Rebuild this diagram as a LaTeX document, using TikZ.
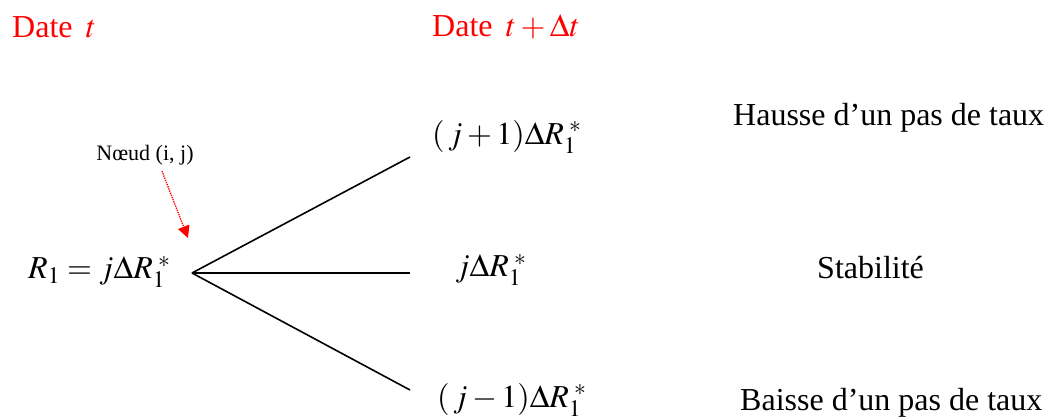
\documentclass[tikz,border=0pt]{standalone}
\usepackage{mathptmx}
\usepackage{fontspec}
\setmainfont{Liberation Serif}
\usetikzlibrary{arrows.meta}
\begin{document}
\begin{tikzpicture}[x=1pt,y=-1pt,
  lbl/.style={inner sep=0pt,font=\fontsize{32}{36}\selectfont},
  small/.style={inner sep=0pt,font=\fontsize{22}{25}\selectfont},
  branch/.style={draw=black,line width=1.6pt}]
\useasboundingbox (0,0) rectangle (1055,419);
\node[lbl,text=red,anchor=west] (d1) at (12,27) {Date \,$t$};
\node[lbl,text=red,anchor=west] (d2) at (432,27) {Date \,$t+\Delta t$};
\coordinate (o) at (192,273);
\coordinate (u) at (410,157);
\coordinate (m) at (410,273);
\coordinate (b) at (410,390);
\draw[branch] (o) -- (u);
\draw[branch] (o) -- (m);
\draw[branch] (o) -- (b);
\node[lbl,anchor=west] (r) at (28,272) {$R_{1}=j\Delta R_{1}^{\;*}$};
\node[lbl,anchor=west] (nu) at (432,137) {$(\,j+1)\Delta R_{1}^{\;*}$};
\node[lbl,anchor=west] (nm) at (455,270) {$j\Delta R_{1}^{\;*}$};
\node[lbl,anchor=west] (nb) at (437,400) {$(\,j-1)\Delta R_{1}^{\;*}$};
\node[lbl,anchor=west] (h) at (733,118) {Hausse d’un pas de taux};
\node[lbl,anchor=west] (s) at (817,268) {Stabilité};
\node[lbl,anchor=west] (bs) at (740,403) {Baisse d’un pas de taux};
\node[small] (n) at (145,155) {Nœud (i, j)};
\coordinate (a1) at (162,173);
\coordinate (a2) at (188,238);
\draw[red,densely dotted,line width=1.3pt,-{Triangle[length=12pt,width=12pt]}] (n.south) ++(17,6) coordinate (a1) -- (a2);
\end{tikzpicture}
\end{document}
